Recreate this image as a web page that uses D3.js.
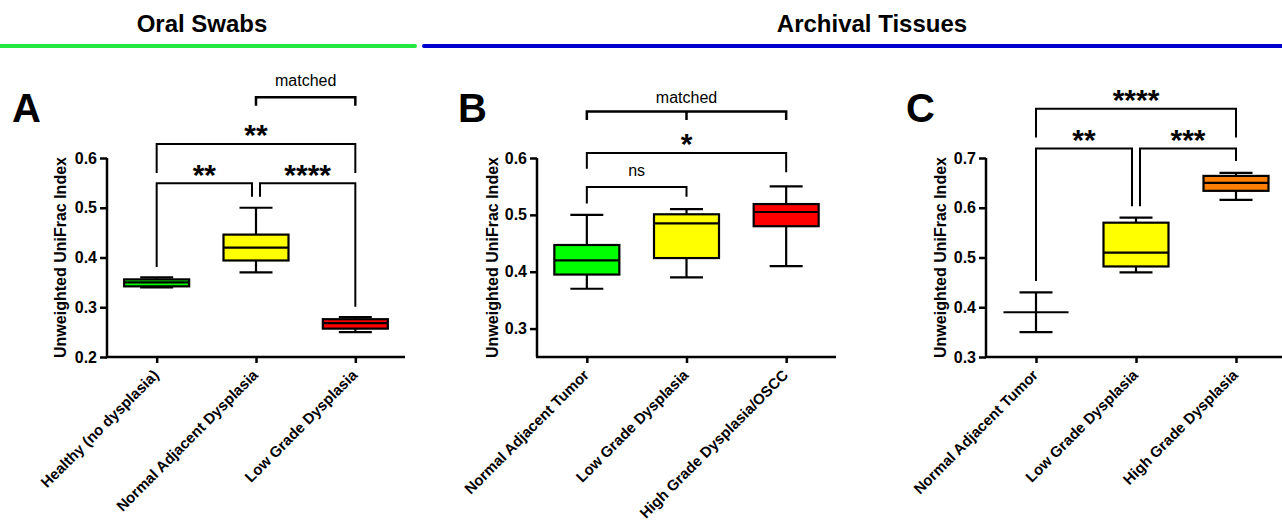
<!DOCTYPE html>
<html><head><meta charset="utf-8">
<script src="https://cdn.jsdelivr.net/npm/d3@7"></script>
<style>
body{margin:0;background:#fff;}
svg{display:block;font-family:"Liberation Sans",Arial,Helvetica,sans-serif;}
</style>
</head><body>
<svg id="chart" width="1282" height="523"></svg>
<script>
// ---------- DATA ----------
const headers = ["Oral Swabs", "Archival Tissues"];
const yTitle = "Unweighted UniFrac Index";

// Panel A – Oral Swabs
const catsA = ["Healthy (no dysplasia)", "Normal Adjacent Dysplasia", "Low Grade Dysplasia"];
const minA = [0.340, 0.370, 0.250];
const q1A  = [0.342, 0.394, 0.257];
const medA = [0.350, 0.420, 0.268];
const q3A  = [0.356, 0.446, 0.276];
const maxA = [0.360, 0.500, 0.280];
const ticksA = [0.2, 0.3, 0.4, 0.5, 0.6];
const domainA = [0.2, 0.6];

// Panel B – Archival Tissues (matched)
const catsB = ["Normal Adjacent Tumor", "Low Grade Dysplasia", "High Grade Dysplasia/OSCC"];
const minB = [0.370, 0.390, 0.410];
const q1B  = [0.395, 0.424, 0.480];
const medB = [0.420, 0.485, 0.505];
const q3B  = [0.447, 0.501, 0.519];
const maxB = [0.500, 0.510, 0.550];
const ticksB = [0.3, 0.4, 0.5, 0.6];
const domainB = [0.25, 0.6];

// Panel C – Archival Tissues
const catsC = ["Normal Adjacent Tumor", "Low Grade Dysplasia", "High Grade Dysplasia"];
const minC = [0.350, 0.470, 0.616];
const q1C  = [0.390, 0.482, 0.634];
const medC = [0.390, 0.510, 0.650];
const q3C  = [0.390, 0.570, 0.664];
const maxC = [0.430, 0.580, 0.670];
const ticksC = [0.3, 0.4, 0.5, 0.6, 0.7];
const domainC = [0.3, 0.7];

// Significance annotations (a,b = group indices; y values in data units)
const bracketsA = [
  {a:1, b:2, y:0.722, ya:0.705, yb:0.705, label:"matched", ly:0.744, kind:"text"},
  {a:0, b:2, y:0.628, ya:0.570, yb:0.570, label:"**", ly:0.656, kind:"star"},
  {a:0, b:1, insetB:true, y:0.549, ya:0.381, yb:0.522, label:"**", ly:0.576, kind:"star"},
  {a:1, b:2, insetA:true, y:0.549, ya:0.522, yb:0.301, label:"****", ly:0.576, kind:"star"}
];
const bracketsB = [
  {a:0, b:2, mid:1, y:0.682, ya:0.667, yb:0.667, label:"matched", ly:0.696, kind:"text"},
  {a:0, b:2, y:0.609, ya:0.581, yb:0.575, label:"*", ly:0.633, kind:"star"},
  {a:0, b:1, y:0.549, ya:0.520, yb:0.532, label:"ns", ly:0.568, kind:"text"}
];
const bracketsC = [
  {a:0, b:2, y:0.799, ya:0.741, yb:0.741, label:"****", ly:0.826, kind:"star"},
  {a:0, b:1, insetB:true, y:0.719, ya:0.453, yb:0.603, label:"**", ly:0.746, kind:"star"},
  {a:1, b:2, insetA:true, y:0.719, ya:0.603, yb:0.694, label:"***", ly:0.746, kind:"star"}
];

const colorsA = ["#00ff00", "#ffff00", "#ff0000"];
const colorsB = ["#00ff00", "#ffff00", "#ff0000"];
const colorsC = ["none", "#ffff00", "#ff8000"];

// ---------- LAYOUT ----------
const panels = [
  {letter:"A", letterX:12, cats:catsA, mn:minA, q1:q1A, md:medA, q3:q3A, mx:maxA, colors:colorsA,
   domain:domainA, ticks:ticksA, brackets:bracketsA, x0:107, x1:405, yTitleX:66},
  {letter:"B", letterX:458, cats:catsB, mn:minB, q1:q1B, md:medB, q3:q3B, mx:maxB, colors:colorsB,
   domain:domainB, ticks:ticksB, brackets:bracketsB, x0:537, x1:836, yTitleX:498},
  {letter:"C", letterX:906, cats:catsC, mn:minC, q1:q1C, md:medC, q3:q3C, mx:maxC, colors:colorsC,
   domain:domainC, ticks:ticksC, brackets:bracketsC, x0:986, x1:1286, yTitleX:946}
];
const yBottom = 357, yTop = 158;
const boxW = 65, capW = 33, inset = 4;

const svg = d3.select("#chart");

// headers
svg.append("line").attr("x1", 0).attr("x2", 415).attr("y1", 46).attr("y2", 46)
  .attr("stroke", "#22e83f").attr("stroke-width", 4).attr("stroke-linecap", "round");
svg.append("line").attr("x1", 424).attr("x2", 1290).attr("y1", 46).attr("y2", 46)
  .attr("stroke", "#0000cc").attr("stroke-width", 4).attr("stroke-linecap", "round");
svg.append("text").attr("x", 202).attr("y", 32).attr("text-anchor", "middle")
  .attr("font-size", 24).attr("font-weight", "bold").text(headers[0]);
svg.append("text").attr("x", 872).attr("y", 32).attr("text-anchor", "middle")
  .attr("font-size", 24).attr("font-weight", "bold").text(headers[1]);

panels.forEach(p => {
  const g = svg.append("g");
  const x = d3.scalePoint().domain(p.cats).range([p.x0, p.x1]).padding(0.5);
  const y = d3.scaleLinear().domain(p.domain).range([yBottom, yTop]);

  // letter
  g.append("text").attr("x", p.letterX).attr("y", 122).attr("font-size", 40)
    .attr("font-weight", "bold").text(p.letter);

  // y axis
  const ya = g.append("g").attr("transform", `translate(${p.x0},0)`)
    .call(d3.axisLeft(y).tickValues(p.ticks).tickSize(7).tickPadding(3).tickFormat(d3.format(".1f")));
  ya.select(".domain").attr("d", `M0,${y(p.ticks[p.ticks.length-1])}V${yBottom}`)
    .attr("stroke", "#000").attr("stroke-width", 2.5);
  ya.selectAll(".tick line").attr("stroke", "#000").attr("stroke-width", 2.5);
  ya.selectAll(".tick text").attr("font-size", 16).attr("font-weight", "bold")
    .attr("fill", "#000").attr("font-family", "Liberation Sans, Arial, sans-serif");

  // x axis
  const xa = g.append("g").attr("transform", `translate(0,${yBottom})`)
    .call(d3.axisBottom(x).tickSize(6).tickFormat(""));
  xa.select(".domain").attr("d", `M${p.x0-1},0H${p.x1}`).attr("stroke", "#000").attr("stroke-width", 2.5);
  xa.selectAll(".tick line").attr("stroke", "#000").attr("stroke-width", 2.5);

  // x labels rotated
  p.cats.forEach(c => {
    g.append("text").attr("transform", `translate(${x(c)+3},${yBottom+19}) rotate(-45)`)
      .attr("text-anchor", "end").attr("font-size", 15).attr("font-weight", "bold").text(c);
  });

  // y title
  g.append("text").attr("transform", `translate(${p.yTitleX},${(yBottom + y(p.ticks[p.ticks.length-1]))/2}) rotate(-90)`)
    .attr("text-anchor", "middle").attr("font-size", 16).attr("font-weight", "bold").text(yTitle);

  // boxes
  p.cats.forEach((c, i) => {
    const cx = x(c);
    const bg = g.append("g").attr("stroke", "#000").attr("stroke-width", 2.2);
    bg.append("line").attr("x1", cx).attr("x2", cx).attr("y1", y(p.mx[i])).attr("y2", y(p.q3[i]));
    bg.append("line").attr("x1", cx).attr("x2", cx).attr("y1", y(p.q1[i])).attr("y2", y(p.mn[i]));
    bg.append("line").attr("x1", cx - capW/2).attr("x2", cx + capW/2).attr("y1", y(p.mx[i])).attr("y2", y(p.mx[i]));
    bg.append("line").attr("x1", cx - capW/2).attr("x2", cx + capW/2).attr("y1", y(p.mn[i])).attr("y2", y(p.mn[i]));
    if (p.q3[i] > p.q1[i]) {
      bg.append("rect").attr("x", cx - boxW/2).attr("width", boxW)
        .attr("y", y(p.q3[i])).attr("height", y(p.q1[i]) - y(p.q3[i]))
        .attr("fill", p.colors[i]);
    }
    bg.append("line").attr("x1", cx - boxW/2).attr("x2", cx + boxW/2).attr("y1", y(p.md[i])).attr("y2", y(p.md[i]));
  });

  // brackets
  p.brackets.forEach(b => {
    const xa_ = x(p.cats[b.a]) + (b.insetA ? inset : 0);
    const xb_ = x(p.cats[b.b]) - (b.insetB ? inset : 0);
    const path = d3.path();
    path.moveTo(xa_, y(b.ya)); path.lineTo(xa_, y(b.y)); path.lineTo(xb_, y(b.y)); path.lineTo(xb_, y(b.yb));
    if (b.mid !== undefined) { const xm = x(p.cats[b.mid]); path.moveTo(xm, y(b.y)); path.lineTo(xm, y(b.ya)); }
    g.append("path").attr("d", path.toString()).attr("fill", "none").attr("stroke", "#000")
      .attr("stroke-width", b.kind === "text" && b.label === "matched" ? 2.5 : 2);
    const tx = (b.mid !== undefined) ? x(p.cats[b.mid]) : (xa_ + xb_) / 2;
    if (b.kind === "star") {
      g.append("text").attr("x", tx).attr("y", y(b.ly)).attr("dy", "0.5em")
        .attr("text-anchor", "middle").attr("font-size", 30).attr("font-weight", "bold").text(b.label);
    } else {
      g.append("text").attr("x", tx).attr("y", y(b.ly))
        .attr("text-anchor", "middle").attr("font-size", 16).text(b.label);
    }
  });
});
</script>
</body></html>
